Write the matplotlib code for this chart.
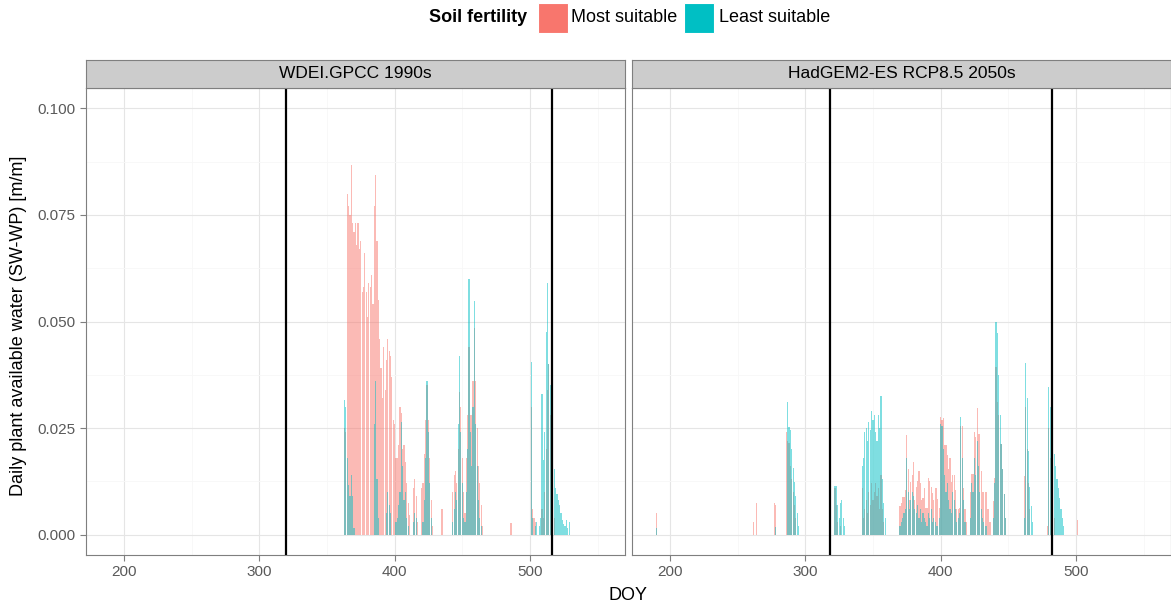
import matplotlib as mpl
mpl.use('Agg')
import matplotlib.pyplot as plt
from matplotlib.patches import Rectangle
from matplotlib.ticker import MultipleLocator
import numpy as np

plt.rcParams['font.family'] = ['Liberation Sans', 'DejaVu Sans']

panel_titles = ['WDEI.GPCC 1990s', 'HadGEM2-ES RCP8.5 2050s']
series_names = ['Most suitable', 'Least suitable']
series_colors = ['#F8766D', '#00BFC4']
# sowing / harvest day of each panel
season_lines = [[320, 516], [318.3, 482.5]]

# daily values [m/m], as runs keyed by the first DOY of the run
gpcc_most = {
    363: [0.025, 0.024, 0.080, 0.077, 0.075, 0.0867, 0.073, 0.071, 0.073, 0.068,
          0.073, 0.067, 0.069, 0.057, 0.058, 0.066, 0.057, 0.051, 0.059, 0.058,
          0.061, 0.054, 0.077, 0.0843, 0.069, 0.055, 0.046, 0.039, 0.032, 0.044,
          0.034, 0.041, 0.046, 0.043, 0.042, 0.037, 0.027, 0.026, 0.018, 0.018,
          0.021, 0.030, 0.0285, 0.020, 0.021, 0.017, 0.012, 0.0075, 0.0045],
    414: [0.011, 0.013, 0.009, 0.003],
    420: [0.011, 0.012, 0.019, 0.027, 0.035, 0.027, 0.018, 0.008, 0.002],
    435: [0.006],
    443: [0.010, 0.014, 0.015, 0.012, 0.020, 0.0335, 0.030, 0.018, 0.010, 0.005,
          0.018, 0.028, 0.044, 0.028, 0.028, 0.036, 0.0485, 0.036, 0.025, 0.016,
          0.012, 0.007, 0.002],
    486: [0.0028],
    501: [0.030, 0.006, 0.004, 0.003],
    509: [0.006, 0.004, 0.010, 0.020, 0.034, 0.040, 0.028, 0.012, 0.006, 0.004],
}
gpcc_least = {
    363: [0.0316, 0.030, 0.018, 0.0117, 0.009, 0.014, 0.009, 0.0015],
    385: [0.026, 0.036, 0.013, 0.004],
    394: [0.005, 0.010, 0.007, 0.005],
    401: [0.003, 0.004, 0.007, 0.010, 0.0265, 0.016, 0.008, 0.010, 0.004, 0.002],
    414: [0.003, 0.005, 0.004],
    421: [0.003, 0.008, 0.018, 0.036, 0.024, 0.012, 0.004],
    443: [0.003, 0.006, 0.010, 0.008, 0.026, 0.042, 0.024, 0.012, 0.004, 0.003,
          0.010, 0.020, 0.060, 0.024, 0.016, 0.030, 0.0547, 0.026, 0.016, 0.008,
          0.004, 0.002],
    501: [0.0405, 0.004, 0, 0.002, 0.003, 0, 0.002, 0.004, 0.033, 0.0175,
          0.024, 0.0475, 0.059, 0.040, 0.035, 0.030, 0.018, 0.0155, 0.011, 0.0095,
          0.008, 0.007, 0.005, 0.0035, 0.0025, 0.002, 0.0035, 0.0015, 0.003],
}
had_most = {
    190: [0.005],
    262: [0.003, 0, 0.0075],
    277: [0.0075, 0.007],
    286: [0.024, 0.022, 0.0215, 0.016, 0.013, 0.010, 0.007, 0.004],
    322: [0.011, 0.007, 0.003, 0, 0.002],
    342: [0.011, 0.004, 0.006, 0.008, 0.005, 0.010, 0.007, 0.012, 0.008, 0.010,
          0.012, 0.009, 0.011, 0.006, 0.014, 0.006, 0.003],
    370: [0.0066, 0.0075, 0.0088, 0.0088, 0.0105, 0.0234, 0.0155, 0.008, 0.0124, 0.014,
          0.0171, 0.008, 0.0112, 0.0125, 0.015, 0.012, 0.008, 0.0085, 0.011, 0.0062,
          0.0062, 0.0133, 0.0126, 0.0112, 0.0097, 0.008, 0.011, 0.011, 0.0083, 0.0063,
          0.0277, 0.027, 0.0274, 0.021, 0.021, 0.0187, 0.0155, 0.018, 0.0124, 0.014,
          0.014, 0.0105, 0.006, 0.006, 0.0063, 0.0254, 0.0254, 0.011, 0.006, 0.003,
          0, 0, 0.010, 0.0141, 0.0141, 0.0241, 0.023, 0.0297, 0.0235, 0.0235,
          0.015, 0.0101, 0.010, 0.010, 0.010, 0.006, 0.003, 0.003, 0, 0.0078,
          0.0133, 0.0394, 0.0312, 0.028, 0.0213, 0.0213, 0.0155, 0.0095, 0.004],
    462: [0.0138, 0.030, 0.020, 0.012, 0.006],
    479: [0.002, 0.025, 0.018, 0.010, 0.006, 0.004],
    501: [0.0035],
}
had_least = {
    190: [0.0015],
    278: [0.0017],
    287: [0.031, 0.0253, 0.0245, 0.020, 0.0157, 0.0124, 0.009, 0.005, 0.002],
    322: [0.0113, 0.0113, 0.007, 0.004, 0.0075, 0.008, 0.004, 0.002],
    342: [0.016, 0.018, 0.024, 0.025, 0.022, 0.0265, 0.0245, 0.029, 0.027, 0.028,
          0.024, 0.022, 0.028, 0.025, 0.0324, 0.013, 0.0075, 0.004],
    370: [0.002, 0.003, 0.004, 0.005, 0.006, 0.018, 0.010, 0.006, 0.008, 0.010,
          0.009, 0.006, 0.005, 0.007, 0.004, 0.006, 0.003, 0.005, 0.004, 0.003,
          0.002, 0.005, 0.004, 0.006, 0.003, 0.004, 0.003, 0.002, 0.002, 0.004,
          0.026, 0.0254, 0.020, 0.014, 0.010, 0.012, 0.008, 0.006, 0.005, 0.010,
          0.008, 0.006, 0.003, 0.004, 0.005, 0.0277, 0.018, 0.008, 0.003, 0,
          0, 0, 0.004, 0.012, 0.010, 0.018, 0.014, 0.022, 0.016, 0.010,
          0.006, 0.004, 0.003, 0.002, 0.002, 0, 0, 0, 0, 0.004,
          0.012, 0.0499, 0.0473, 0.0375, 0.028, 0.0213, 0.0155, 0.0095, 0.004],
    462: [0.004, 0.0402, 0.032, 0.0195, 0.0112, 0.0066, 0.003],
    480: [0.0347, 0.030, 0.026, 0.0227, 0.019, 0.016, 0.013, 0.011, 0.0085, 0.006,
          0.004, 0.002],
}
panel_data = [[gpcc_most, gpcc_least], [had_most, had_least]]


def expand(runs):
    # turn {start: [v, v, ...]} into day / value arrays, dropping empty days
    days, vals = [], []
    for start, run in runs.items():
        for i, v in enumerate(run):
            if v > 0:
                days.append(start + i)
                vals.append(v)
    return np.array(days), np.array(vals)


W, H = 1171, 610
fig = plt.figure(figsize=(W / 100, H / 100), dpi=100)

grey_border = '#7F7F7F'
ax_left = [86, 632]
ax_w = 539
ax_top, ax_bottom = 88, 555
strip_top = 60

for p in range(2):
    ax = fig.add_axes([ax_left[p] / W, 1 - ax_bottom / H, ax_w / W, (ax_bottom - ax_top) / H])
    for s in range(2):
        d, v = expand(panel_data[p][s])
        ax.bar(d, v, width=0.85, color=series_colors[s], alpha=0.5, linewidth=0, zorder=2)
    for x in season_lines[p]:
        ax.axvline(x, color='black', linewidth=1.6, zorder=3)
    ax.set_xlim(171.9, 570.3)
    ax.set_ylim(-0.0048, 0.1048)
    ax.xaxis.set_major_locator(MultipleLocator(100))
    ax.xaxis.set_minor_locator(MultipleLocator(50))
    ax.yaxis.set_major_locator(MultipleLocator(0.025))
    ax.yaxis.set_minor_locator(MultipleLocator(0.0125))
    ax.grid(which='major', color='#E5E5E5', linewidth=0.8, zorder=0)
    ax.grid(which='minor', color='#F7F7F7', linewidth=0.6, zorder=0)
    ax.set_axisbelow(True)
    ax.tick_params(which='major', length=4, color=grey_border, labelcolor='#595959',
                   labelsize=11, width=0.8)
    ax.tick_params(which='minor', length=0)
    ax.yaxis.set_major_formatter(mpl.ticker.FuncFormatter(lambda y, _: f'{y:.3f}'))
    if p == 1:
        ax.tick_params(axis='y', which='both', left=False, labelleft=False)
    for sp in ax.spines.values():
        sp.set_color(grey_border)
        sp.set_linewidth(0.8)

    # facet strip
    sax = fig.add_axes([ax_left[p] / W, 1 - ax_top / H, ax_w / W, (ax_top - strip_top) / H])
    sax.set_facecolor('#CCCCCC')
    sax.set_xticks([])
    sax.set_yticks([])
    for sp in sax.spines.values():
        sp.set_color(grey_border)
        sp.set_linewidth(0.8)
    sax.text(0.5, 0.5, panel_titles[p], ha='center', va='center', fontsize=12.5,
             transform=sax.transAxes)

fig.text(628 / W, 1 - 595 / H, 'DOY', ha='center', va='center', fontsize=13)
fig.text(19 / W, 1 - 326 / H, 'Daily plant available water (SW-WP) [m/m]',
         rotation=90, ha='center', va='center', fontsize=13)

# legend on top
fig.text(527 / W, 1 - 18 / H, 'Soil fertility', ha='right', va='center',
         fontsize=13, fontweight='bold')
key_x = [538, 684]
label_x = [571, 719]
for s in range(2):
    fig.patches.append(Rectangle((key_x[s] / W, 1 - 33 / H), 30 / W, 30 / H,
                                 transform=fig.transFigure, facecolor=series_colors[s],
                                 edgecolor='white', linewidth=0.8))
    fig.text(label_x[s] / W, 1 - 18 / H, series_names[s], ha='left', va='center',
             fontsize=13)

fig.savefig('out.png', dpi=100)
